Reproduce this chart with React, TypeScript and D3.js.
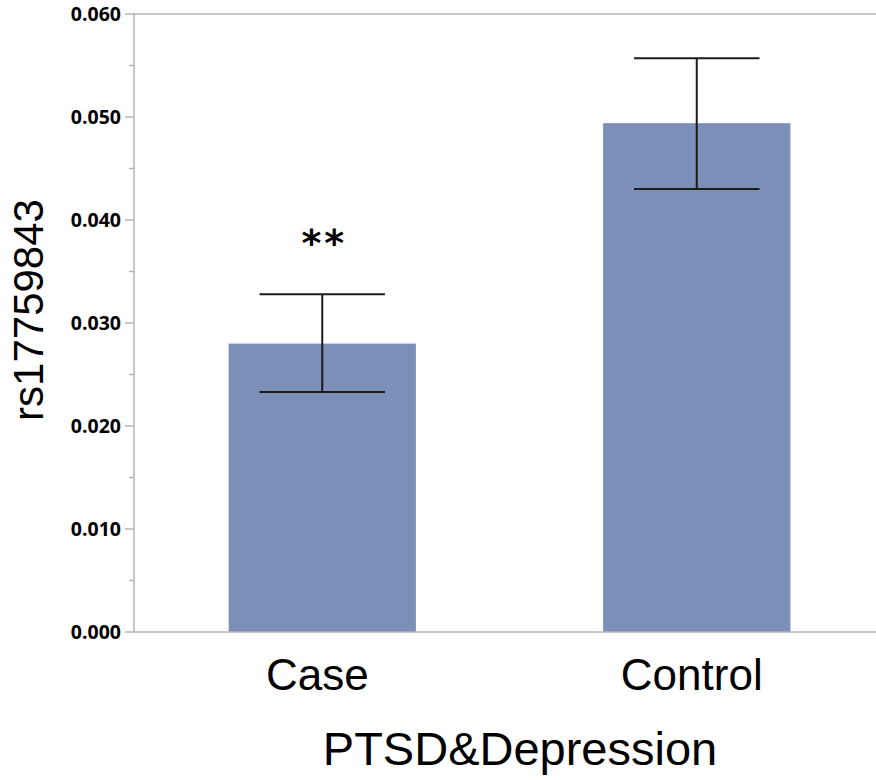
import React from "react";
import * as d3 from "d3";

const categories = ["Case", "Control"];
const means = [0.028, 0.0494];
const errLow = [0.0233, 0.0430];
const errHigh = [0.0328, 0.0557];
const majorTicks = [0, 0.01, 0.02, 0.03, 0.04, 0.05, 0.06];
const minorTicks = [0.005, 0.015, 0.025, 0.035, 0.045, 0.055];
const annotations = ["**", ""];
const yTitle = "rs17759843";
const xTitle = "PTSD&Depression";

export default function App() {
  const W = 876, H = 780;
  const left = 134, top = 14, bottom = 632;
  const y = d3.scaleLinear().domain([0, 0.06]).range([bottom, top]);
  const x = d3.scaleBand<string>().domain(categories).range([135, 884]).paddingInner(0.5).paddingOuter(0.25);
  const bw = x.bandwidth();
  const capW = bw * 0.67;
  const axisColor = "#b4b4b4";
  const barColor = "#7b8fb9";
  const fmt = d3.format(".3f");

  return (
    <svg width={W} height={H} style={{ position: "absolute", left: 0, top: 0, display: "block", background: "#fff" }}>
      {/* bars */}
      {categories.map((c, i) => (
        <rect key={c} x={x(c)!} y={y(means[i])} width={bw} height={bottom - y(means[i])} fill={barColor} />
      ))}
      {/* error bars */}
      {categories.map((c, i) => {
        const cx = x(c)! + bw / 2;
        return (
          <g key={"e" + c} stroke="#1c1c1c" strokeWidth={2}>
            <line x1={cx} x2={cx} y1={y(errHigh[i])} y2={y(errLow[i])} />
            <line x1={cx - capW / 2} x2={cx + capW / 2} y1={y(errHigh[i])} y2={y(errHigh[i])} />
            <line x1={cx - capW / 2} x2={cx + capW / 2} y1={y(errLow[i])} y2={y(errLow[i])} />
          </g>
        );
      })}
      {/* annotations */}
      {categories.map((c, i) =>
        annotations[i] ? (
          <text key={"a" + c} x={x(c)! + bw / 2 + 2} y={y(errHigh[i]) - 38} textAnchor="middle"
            fontFamily="DejaVu Sans, sans-serif" fontWeight={700} fontSize={38} letterSpacing={3}>
            {annotations[i]}
          </text>
        ) : null
      )}
      {/* axes frame */}
      <line x1={left} x2={left} y1={top} y2={bottom} stroke={axisColor} strokeWidth={1.5} />
      <line x1={left - 1} x2={W} y1={top} y2={top} stroke={axisColor} strokeWidth={1.5} />
      <line x1={left} x2={W} y1={bottom} y2={bottom} stroke={axisColor} strokeWidth={1.5} />
      {majorTicks.map((t) => (
        <g key={"t" + t}>
          <line x1={left - 9} x2={left} y1={y(t)} y2={y(t)} stroke={axisColor} strokeWidth={1.5} />
          <text x={121} y={y(t) + 7} textAnchor="end" fontFamily="Open Sans, sans-serif" fontWeight={700} fontSize={19.5} fill="#000">
            {fmt(t)}
          </text>
        </g>
      ))}
      {minorTicks.map((t) => (
        <line key={"m" + t} x1={left - 5} x2={left} y1={y(t)} y2={y(t)} stroke={axisColor} strokeWidth={1.5} />
      ))}
      {/* x tick labels */}
      {categories.map((c) => (
        <text key={"x" + c} x={x(c)! + bw / 2 - 5} y={690} textAnchor="middle" fontFamily="Liberation Sans, Arial, sans-serif" fontSize={44} fill="#000">
          {c}
        </text>
      ))}
      <text x={520} y={765} textAnchor="middle" fontFamily="Liberation Sans, Arial, sans-serif" fontSize={47} fill="#000">
        {xTitle}
      </text>
      <text transform={`translate(43,310) rotate(-90)`} textAnchor="middle" fontFamily="Liberation Sans, Arial, sans-serif" fontSize={42} fill="#000">
        {yTitle}
      </text>
    </svg>
  );
}
